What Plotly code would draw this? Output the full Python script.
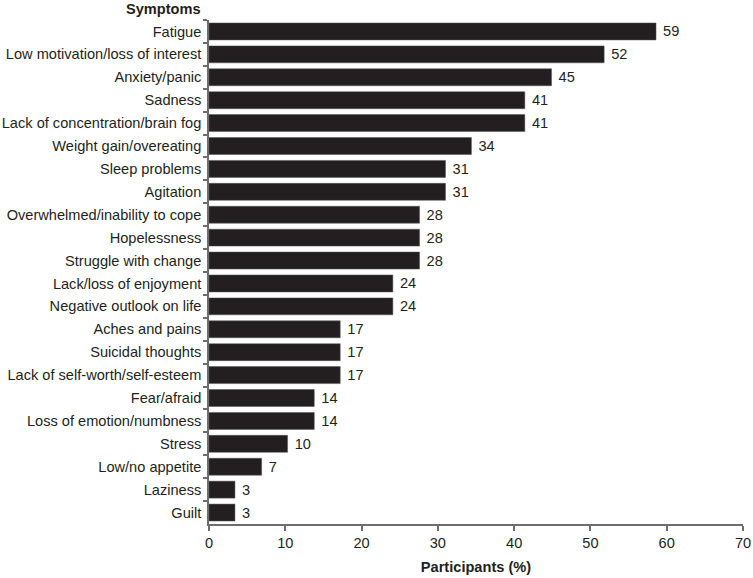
import plotly.graph_objects as go

symptoms = [
    "Fatigue", "Low motivation/loss of interest", "Anxiety/panic", "Sadness",
    "Lack of concentration/brain fog", "Weight gain/overeating", "Sleep problems",
    "Agitation", "Overwhelmed/inability to cope", "Hopelessness", "Struggle with change",
    "Lack/loss of enjoyment", "Negative outlook on life", "Aches and pains",
    "Suicidal thoughts", "Lack of self-worth/self-esteem", "Fear/afraid",
    "Loss of emotion/numbness", "Stress", "Low/no appetite", "Laziness", "Guilt",
]
values = [59, 52, 45, 41, 41, 34, 31, 31, 28, 28, 28, 24, 24, 17, 17, 17, 14, 14, 10, 7, 3, 3]
# bar lengths as drawn (slightly different from rounded labels)
lengths = [58.6, 51.8, 44.9, 41.4, 41.4, 34.4, 31.0, 31.0, 27.6, 27.6, 27.6, 24.1, 24.1,
           17.2, 17.2, 17.2, 13.8, 13.8, 10.3, 6.9, 3.4, 3.4]
x_ticks = [0, 10, 20, 30, 40, 50, 60, 70]

font_family = "Arial, Liberation Sans, sans-serif"
dark = "#231f20"
fs = 14.6

fig = go.Figure(go.Bar(
    x=lengths, y=symptoms, orientation="h",
    marker=dict(color=dark, line=dict(color="#555555", width=0.5)),
    text=["\u00a0" + str(v) for v in values], textposition="outside",
    textfont=dict(family=font_family, size=fs, color=dark),
    cliponaxis=False,
))

fig.update_layout(
    width=753, height=578,
    margin=dict(l=209, r=10, t=20, b=54, autoexpand=False),
    paper_bgcolor="white", plot_bgcolor="white",
    bargap=0.26,
    showlegend=False,
    font=dict(family=font_family, size=fs, color=dark),
    xaxis=dict(
        range=[0, 70], tickvals=x_ticks, showgrid=False, zeroline=False,
        showline=True, linecolor="#6d6d6d", linewidth=1.5,
        ticks="outside", ticklen=5, tickcolor="#6d6d6d", tickwidth=1.5,
        tickfont=dict(size=fs, color=dark), automargin=False,
        title=dict(text="<b>Participants (%)</b>", font=dict(size=fs, color=dark), standoff=12),
    ),
    yaxis=dict(
        autorange="reversed", showgrid=False, zeroline=False,
        showline=True, linecolor="#6d6d6d", linewidth=1.5,
        ticks="outside", ticklen=4, tickcolor="#6d6d6d", tickwidth=1.5,
        tickson="boundaries", automargin=False, ticklabelstandoff=3,
        tickfont=dict(size=fs, color=dark),
    ),
    annotations=[dict(
        text="<b>Symptoms</b>", xref="paper", yref="paper", x=0, y=1,
        xanchor="right", yanchor="bottom", xshift=-6, yshift=1, showarrow=False,
        font=dict(size=fs, color=dark, family=font_family),
    )],
)

fig.write_html(
    "out.html",
    config={"displayModeBar": False},
    post_script="document.body.style.margin='0';document.body.style.padding='0';",
)
